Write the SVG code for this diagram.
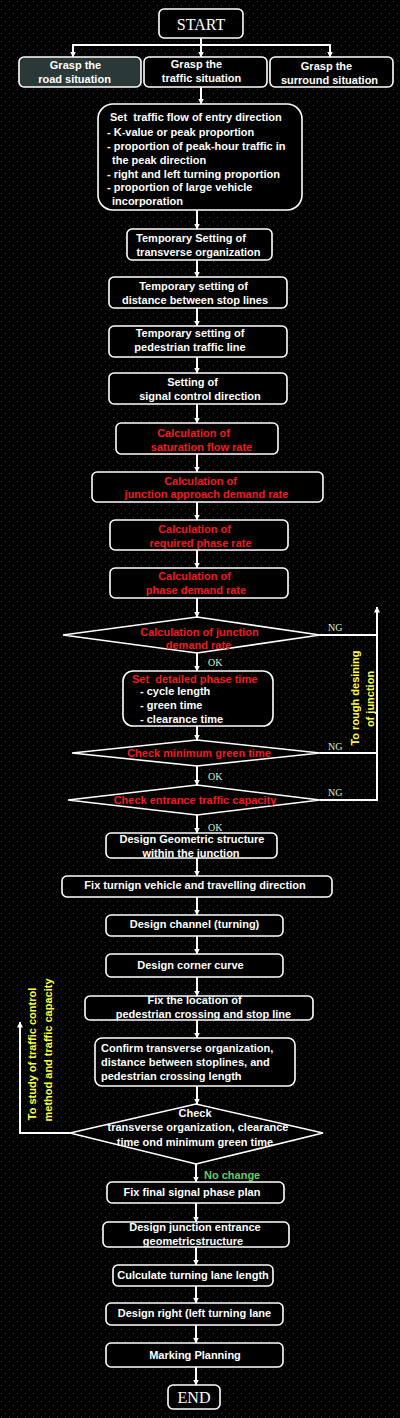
<svg xmlns="http://www.w3.org/2000/svg" width="400" height="1418" viewBox="0 0 400 1418">
<defs>
<pattern id="dots" width="8" height="8" patternUnits="userSpaceOnUse">
<rect width="8" height="8" fill="#000"/>
<rect x="1" y="1" width="1" height="1" fill="#3a3a3a"/>
<rect x="5" y="5" width="1" height="1" fill="#3a3a3a"/>
</pattern>
<marker id="ah" viewBox="0 0 6 6" refX="5.5" refY="3" markerWidth="6" markerHeight="6" markerUnits="userSpaceOnUse" orient="auto">
<path d="M0,0 L6,3 L0,6 Z" fill="#fff"/>
</marker>
<style>
.box{fill:#000;stroke:#fff;stroke-width:1.6}
.t{font-family:"Liberation Sans",Arial,sans-serif;font-weight:bold;font-size:11px;fill:#fff}
.r{fill:#f01c1c}
.y{fill:#ffff3c}
.g{fill:#66cc66}
.m{text-anchor:middle}
.s{font-family:"Liberation Serif","Times New Roman",serif;fill:#fff}
.lab{font-family:"Liberation Serif","Times New Roman",serif;font-size:10px;fill:#d4f0d4}
.c{fill:none;stroke:#fff;stroke-width:2}
.a{marker-end:url(#ah)}
</style>
</defs>
<rect width="400" height="1418" fill="url(#dots)"/>

<g id="connectors">
<path class="c" d="M201,38 V45 M72,45 H331"/>
<path class="c a" d="M73,45 V57"/>
<path class="c a" d="M201,45 V57"/>
<path class="c a" d="M330,45 V57"/>
<path class="c a" d="M201,87 V104"/>
<path class="c a" d="M197,210 V229"/>
<path class="c a" d="M197,260 V277"/>
<path class="c a" d="M197,308 V326"/>
<path class="c a" d="M197,357 V373"/>
<path class="c a" d="M197,404 V423"/>
<path class="c a" d="M197,454 V472"/>
<path class="c a" d="M197,502 V520"/>
<path class="c a" d="M197,550 V568"/>
<path class="c a" d="M197,598 V617"/>
<path class="c a" d="M197,653 V671"/>
<path class="c a" d="M197,726 V740"/>
<path class="c a" d="M197,766 V785"/>
<path class="c a" d="M197,815 V833"/>
<path class="c a" d="M197,858 V876"/>
<path class="c a" d="M197,897 V915"/>
<path class="c a" d="M197,936 V954"/>
<path class="c a" d="M197,977 V996"/>
<path class="c a" d="M197,1020 V1038"/>
<path class="c a" d="M197,1086 V1104"/>
<path class="c a" d="M196,1164 V1182"/>
<path class="c a" d="M196,1203 V1222"/>
<path class="c a" d="M196,1247 V1265"/>
<path class="c a" d="M196,1286 V1303"/>
<path class="c a" d="M196,1325 V1343"/>
<path class="c a" d="M196,1367 V1385"/>
<path class="c" d="M320,635 H377 M320,753 H377"/>
<path class="c a" d="M320,800 H377 V607"/>
<path class="c a" d="M70,1133 H20 V1022"/>
<text class="lab" x="328" y="631">NG</text>
<text class="lab" x="328" y="750">NG</text>
<text class="lab" x="328" y="796">NG</text>
<text class="lab" x="208" y="666">OK</text>
<text class="lab" x="208" y="780">OK</text>
<text class="lab" x="208" y="831">OK</text>
<text class="t g" x="204" y="1179">No change</text>
<text class="t y m" transform="translate(359,698) rotate(-90)">To rough desining</text>
<text class="t y m" transform="translate(374,699) rotate(-90)">of junction</text>
<text class="t y m" transform="translate(36,1054) rotate(-90)">To study of traffic control</text>
<text class="t y m" transform="translate(52,1050) rotate(-90)">method and traffic capacity</text>
</g>

<g id="start">
<rect class="box" x="159" y="9" width="84" height="29" rx="5"/>
<text class="s m" x="201" y="30" font-size="16">START</text>
</g>

<g id="road">
<rect class="box" x="19" y="57" width="122" height="30" rx="5" style="fill:#2b3838"/>
<text class="t m" x="75.5" y="69">Grasp the</text>
<text class="t m" x="74.5" y="83">road situation</text>
</g>
<g id="traffic">
<rect class="box" x="144" y="57" width="123" height="30" rx="5"/>
<text class="t m" x="196.5" y="68">Grasp the</text>
<text class="t m" x="201.5" y="82">traffic situation</text>
</g>
<g id="surround">
<rect class="box" x="270" y="57" width="123" height="30" rx="5"/>
<text class="t m" x="326.5" y="70">Grasp the</text>
<text class="t m" x="329.5" y="84">surround situation</text>
</g>

<g id="entry-flow">
<rect class="box" x="98" y="104" width="204" height="106" rx="15"/>
<text class="t" x="110" y="121">Set &#160;traffic flow of entry direction</text>
<text class="t" x="107" y="136">- K-value or peak proportion</text>
<text class="t" x="107" y="150">- proportion of peak-hour traffic in</text>
<text class="t" x="112" y="164">the peak direction</text>
<text class="t" x="107" y="178">- right and left turning proportion</text>
<text class="t" x="107" y="191">- proportion of large vehicle</text>
<text class="t" x="112" y="205">incorporation</text>
</g>

<g id="transverse">
<rect class="box" x="127" y="229" width="145" height="31" rx="5"/>
<text class="t m" x="191" y="242">Temporary Setting of</text>
<text class="t m" x="198.5" y="256">transverse organization</text>
</g>
<g id="stoplines">
<rect class="box" x="109" y="277" width="178" height="31" rx="5"/>
<text class="t m" x="193.5" y="290">Temporary setting of</text>
<text class="t m" x="195" y="304">distance between stop lines</text>
</g>
<g id="pedestrian">
<rect class="box" x="109" y="326" width="178" height="31" rx="5"/>
<text class="t m" x="190" y="337">Temporary setting of</text>
<text class="t m" x="190" y="351">pedestrian traffic line</text>
</g>
<g id="signal-direction">
<rect class="box" x="109" y="373" width="178" height="31" rx="5"/>
<text class="t m" x="192.5" y="386">Setting of</text>
<text class="t m" x="200" y="400">signal control direction</text>
</g>
<g id="saturation">
<rect class="box" x="116" y="423" width="162" height="31" rx="5"/>
<text class="t r m" x="193.5" y="437">Calculation of</text>
<text class="t r m" x="201.5" y="451">saturation flow rate</text>
</g>
<g id="approach">
<rect class="box" x="92" y="472" width="231" height="30" rx="5"/>
<text class="t r m" x="200.5" y="485">Calculation of</text>
<text class="t r m" x="206.5" y="498">junction approach demand rate</text>
</g>
<g id="required-phase">
<rect class="box" x="110" y="520" width="178" height="30" rx="5"/>
<text class="t r m" x="194.5" y="533">Calculation of</text>
<text class="t r m" x="200.5" y="547">required phase rate</text>
</g>
<g id="phase-demand">
<rect class="box" x="110" y="568" width="178" height="30" rx="5"/>
<text class="t r m" x="194.5" y="580">Calculation of</text>
<text class="t r m" x="196" y="594">phase demand rate</text>
</g>
<g id="check-junction">
<polygon class="box" points="63,635 197,617 320,635 197,653"/>
<text class="t r m" x="199.5" y="636">Calculation of junction</text>
<text class="t r m" x="198.5" y="649">demand rate</text>
</g>
<g id="phase-time">
<rect class="box" x="123" y="671" width="150" height="55" rx="10"/>
<text class="t r" x="132" y="683">Set &#160;detailed phase time</text>
<text class="t" x="140" y="695">- cycle length</text>
<text class="t" x="140" y="709">- green time</text>
<text class="t" x="140" y="723">- clearance time</text>
</g>
<g id="check-green">
<polygon class="box" points="72,753 197,740 320,753 197,766"/>
<text class="t r m" x="199" y="757">Check minimum green time</text>
</g>
<g id="check-capacity">
<polygon class="box" points="68,800 197,785 320,800 197,815"/>
<text class="t r m" x="195" y="804">Check entrance traffic capacity</text>
</g>
<g id="geometric">
<rect class="box" x="106" y="833" width="171" height="25" rx="5"/>
<text class="t m" x="192" y="843">Design Geometric structure</text>
<text class="t m" x="191" y="857">within the junction</text>
</g>
<g id="turning-vehicle">
<rect class="box" x="62" y="876" width="270" height="21" rx="5"/>
<text class="t m" x="195" y="889">Fix turnign vehicle and travelling direction</text>
</g>
<g id="channel">
<rect class="box" x="106" y="915" width="177" height="21" rx="5"/>
<text class="t m" x="194.5" y="928">Design channel (turning)</text>
</g>
<g id="corner">
<rect class="box" x="106" y="954" width="177" height="23" rx="5"/>
<text class="t m" x="190.5" y="969">Design corner curve</text>
</g>
<g id="crossing">
<rect class="box" x="85" y="996" width="228" height="24" rx="5"/>
<text class="t m" x="194.5" y="1004">Fix the location of</text>
<text class="t m" x="203.5" y="1018">pedestrian crossing and stop line</text>
</g>
<g id="confirm">
<rect class="box" x="95" y="1038" width="200" height="48" rx="7"/>
<text class="t" x="101" y="1052">Confirm transverse organization,</text>
<text class="t" x="101" y="1066">distance between stoplines, and</text>
<text class="t" x="101" y="1080">pedestrian crossing length</text>
</g>
<g id="check-final">
<polygon class="box" points="70,1133 196,1104 323,1133 196,1164"/>
<text class="t m" x="195" y="1117">Check</text>
<text class="t m" x="198" y="1131">transverse organization, clearance</text>
<text class="t m" x="195" y="1146">time ond minimum green time</text>
</g>
<g id="final-plan">
<rect class="box" x="107" y="1182" width="177" height="21" rx="5"/>
<text class="t m" x="192" y="1196">Fix final signal phase plan</text>
</g>
<g id="entrance">
<rect class="box" x="103" y="1222" width="186" height="25" rx="5"/>
<text class="t m" x="195" y="1231">Design junction entrance</text>
<text class="t m" x="193" y="1245">geometricstructure</text>
</g>
<g id="lane-length">
<rect class="box" x="113" y="1265" width="160" height="21" rx="5"/>
<text class="t m" x="193" y="1279">Culculate turning lane length</text>
</g>
<g id="turning-lane">
<rect class="box" x="106" y="1303" width="177" height="22" rx="5"/>
<text class="t m" x="194.5" y="1317">Design right (left turning lane</text>
</g>
<g id="marking">
<rect class="box" x="106" y="1343" width="177" height="24" rx="5"/>
<text class="t m" x="195" y="1359">Marking Planning</text>
</g>
<g id="end">
<rect class="box" x="168" y="1385" width="52" height="24" rx="5"/>
<text class="s m" x="194" y="1403" font-size="16">END</text>
</g>
</svg>
